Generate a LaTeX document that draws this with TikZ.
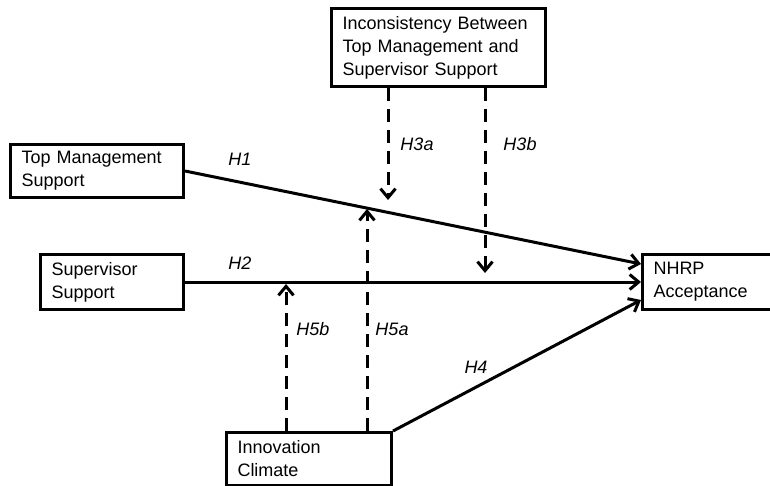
\documentclass[tikz,border=0pt]{standalone}
\usepackage{fontspec}
\setmainfont{Liberation Sans}
\usetikzlibrary{arrows.meta,positioning}

\begin{document}
\begin{tikzpicture}[x=1pt,y=-1pt,line width=3pt,
  cbox/.style={draw,rectangle,anchor=north west,inner sep=0pt,
    align=left,font=\fontsize{18}{23}\selectfont},
  hlab/.style={font=\fontsize{18}{22}\selectfont\itshape},
  harr/.style={-{Straight Barb[length=9pt,width=15pt,line width=3pt]}},
  dline/.style={harr,dash pattern=on 13pt off 8pt}]

  \useasboundingbox (0,0) rectangle (770,486);
  \clip (0,0) rectangle (770,486);

  % boxes
  \node[cbox,minimum width=214pt,minimum height=78pt,text width=192pt] (incon) at (330,7)
    {Inconsistency Between\\Top Management and\\Supervisor Support};
  \node[cbox,minimum width=173pt,minimum height=53pt,text width=151pt] (topm) at (9,143)
    {Top Management\\Support};
  \node[cbox,minimum width=143pt,minimum height=55pt,text width=121pt] (sup) at (39,253)
    {Supervisor\\Support};
  \node[cbox,minimum width=200pt,minimum height=55pt,text width=178pt] (nhrp) at (641,253)
    {NHRP\\Acceptance};
  \node[cbox,minimum width=165pt,minimum height=53pt,text width=143pt] (innov) at (225,431)
    {Innovation\\Climate};

  % direct paths
  \draw[harr] (topm.east) -- ([yshift=18pt]nhrp.west);
  \draw[harr] (sup.east) -- (nhrp.west);
  \draw[harr] (innov.north east) -- ([yshift=-18pt]nhrp.west);

  % moderating paths
  \coordinate (t3a) at (388,200);
  \coordinate (t3b) at (485,273);
  \coordinate (t5a) at (367,209);
  \coordinate (t5b) at (286,284);
  \draw[dline] (incon.south -| t3a) -- (t3a);
  \draw[dline] (incon.south -| t3b) -- (t3b);
  \draw[dline] (innov.north -| t5a) -- (t5a);
  \draw[dline] (innov.north -| t5b) -- (t5b);

  % labels
  \node[hlab] (h1) at (240,159) {H1};
  \node[hlab] (h2) at (240,263) {H2};
  \node[hlab] (h3a) at (417,144) {H3a};
  \node[hlab] (h3b) at (520,144) {H3b};
  \node[hlab] (h5b) at (313,329) {H5b};
  \node[hlab] (h5a) at (392,329) {H5a};
  \node[hlab] (h4) at (476,367) {H4};
\end{tikzpicture}
\end{document}
